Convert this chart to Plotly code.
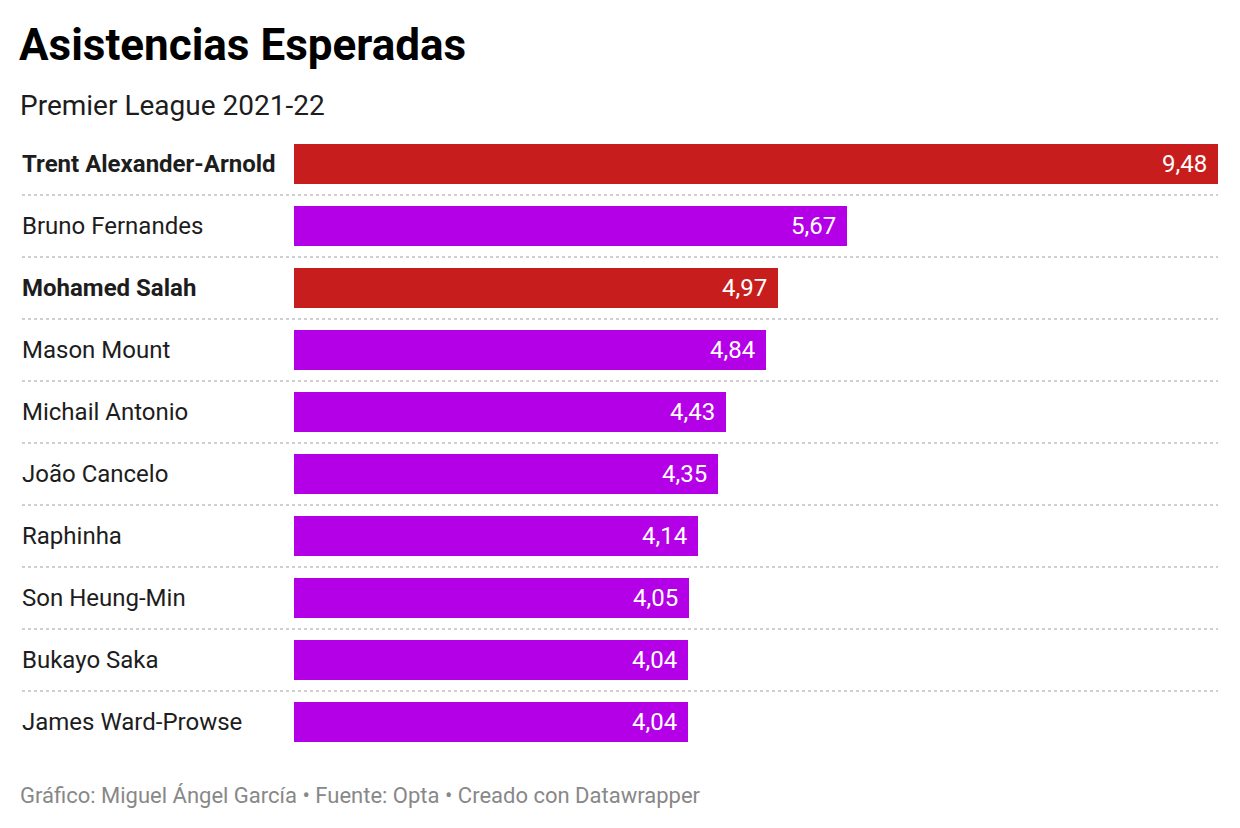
import plotly.graph_objects as go

players = ["Trent Alexander-Arnold", "Bruno Fernandes", "Mohamed Salah", "Mason Mount",
           "Michail Antonio", "João Cancelo", "Raphinha", "Son Heung-Min",
           "Bukayo Saka", "James Ward-Prowse"]
xa = [9.48, 5.67, 4.97, 4.84, 4.43, 4.35, 4.14, 4.05, 4.04, 4.04]
highlight = [True, False, True, False, False, False, False, False, False, False]

RED = "#c71e1d"
PURPLE = "#b400e6"

W, H = 1240, 828
L, R, T, B = 294, 22, 133, 75
pw = W - L - R
ph = H - T - B

def px_x(x):
    return (x - L) / pw

def px_y(y):
    return (H - B - y) / ph

colors = [RED if h else PURPLE for h in highlight]

fig = go.Figure(go.Bar(
    x=xa, y=players, orientation="h",
    marker=dict(color=colors, line=dict(width=0)),
    width=0.645, hoverinfo="skip",
))

annotations = []
for p, v, h in zip(players, xa, highlight):
    annotations.append(dict(
        x=px_x(20), xref="paper", y=p, yref="y", text=f"<b>{p}</b>" if h else p,
        xanchor="left", yanchor="middle", showarrow=False,
        font=dict(family="Roboto", size=24, color="#1d1d1d"),
    ))
    annotations.append(dict(
        x=v, xref="x", y=p, yref="y", text=f"{v:.2f}".replace(".", ","),
        xanchor="right", yanchor="middle", xshift=-9, showarrow=False,
        font=dict(family="Roboto", size=24, color="#ffffff"),
    ))

annotations += [
    dict(x=px_x(17), xref="paper", y=px_y(45), yref="paper", text="<b>Asistencias Esperadas</b>",
         xanchor="left", yanchor="middle", showarrow=False,
         font=dict(family="Roboto", size=44, color="#000000")),
    dict(x=px_x(18), xref="paper", y=px_y(105), yref="paper", text="Premier League 2021-22",
         xanchor="left", yanchor="middle", showarrow=False,
         font=dict(family="Roboto", size=28, color="#1d1d1d")),
    dict(x=px_x(18), xref="paper", y=px_y(795), yref="paper",
         text="Gráfico: Miguel Ángel García • Fuente: Opta • Creado con Datawrapper",
         xanchor="left", yanchor="middle", showarrow=False,
         font=dict(family="Roboto", size=22, color="#888888")),
]

shapes = []
for i in range(len(players) - 1):
    shapes.append(dict(
        type="line", xref="paper", yref="y",
        x0=px_x(22), x1=1, y0=i + 0.5, y1=i + 0.5,
        line=dict(color="#d0d0d0", width=2, dash="dot"),
    ))

fig.update_layout(
    width=W, height=H,
    margin=dict(l=L, r=R, t=T, b=B, pad=0),
    paper_bgcolor="white", plot_bgcolor="white",
    showlegend=False,
    xaxis=dict(range=[0, 9.48], visible=False, fixedrange=True),
    yaxis=dict(categoryorder="array", categoryarray=players, autorange="reversed",
               range=[len(players) - 0.5, -0.5], visible=False, fixedrange=True),
    annotations=annotations,
    shapes=shapes,
    bargap=0,
)

fig.write_html("out.html", config={"displayModeBar": False},
               post_script="document.body.style.margin='0';document.body.style.overflow='hidden';")
